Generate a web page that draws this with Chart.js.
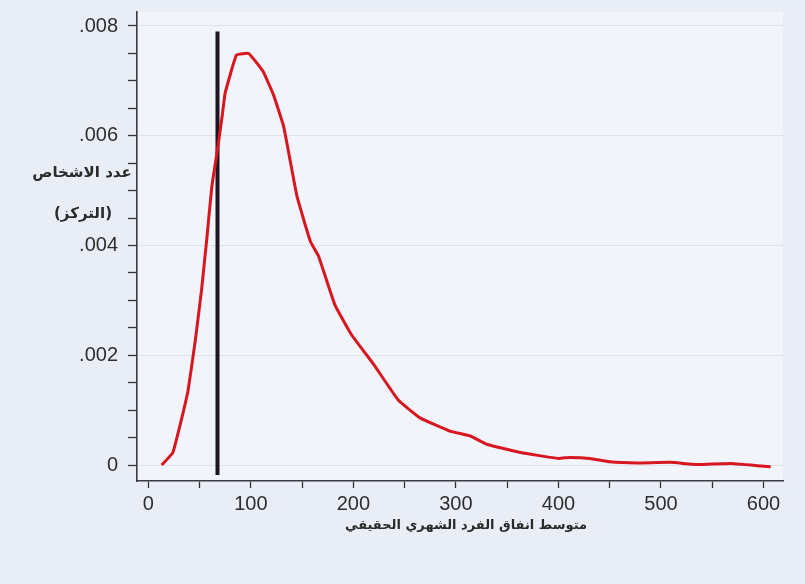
<!DOCTYPE html>
<html>
<head>
<meta charset="utf-8">
<script src="https://cdn.jsdelivr.net/npm/chart.js@4/dist/chart.umd.min.js"></script>
<style>
  html, body { margin: 0; padding: 0; background: #e9eef6; }
  #wrap { width: 805px; height: 584px; }
</style>
</head>
<body>
<div id="wrap"><canvas id="c" width="805" height="584"></canvas></div>
<script>
// ---- data ----
const spendingValues = [13, 24, 34, 39, 46, 52, 57, 62, 67, 72, 75, 86, 98, 112, 122, 132, 145, 158, 166, 182, 198, 220, 244, 265, 294, 314, 330, 363, 400, 411, 431, 450, 477, 509, 535, 568, 607];
const densityValues  = [0.0000, 0.00023, 0.00096, 0.00138, 0.00229, 0.0032, 0.00411, 0.00508, 0.00569, 0.00635, 0.00678, 0.00747, 0.0075, 0.00717, 0.00675, 0.00617, 0.0049, 0.00408, 0.00381, 0.00292, 0.00238, 0.00183, 0.00118, 0.00086, 0.00062, 0.00053, 0.00038, 0.00023, 0.00012, 0.00014, 0.00012, 0.00006, 0.00004, 0.00005, 0.00001, 0.00003, -0.00003];
const markerX = [67.5, 67.5];
const markerY = [-0.00018, 0.0079];

const xTickValues = [0, 50, 100, 150, 200, 250, 300, 350, 400, 450, 500, 550, 600];
const xMajorTicks = [0, 100, 200, 300, 400, 500, 600];
const xMajorLabels = ['0', '100', '200', '300', '400', '500', '600'];
const yTickValues = [0, 0.0005, 0.001, 0.0015, 0.002, 0.0025, 0.003, 0.0035, 0.004, 0.0045, 0.005, 0.0055, 0.006, 0.0065, 0.007, 0.0075, 0.008];
const yMajorTicks = [0, 0.002, 0.004, 0.006, 0.008];
const yMajorLabels = ['0', '.002', '.004', '.006', '.008'];

const xTitle = 'متوسط انفاق الفرد الشهري الحقيقي';
const yTitleLines = ['عدد الاشخاص', '(التركز)'];

// ---- helpers ----
function majorIndex(list, v) {
  for (let i = 0; i < list.length; i++) if (Math.abs(list[i] - v) < 1e-9) return i;
  return -1;
}

const curve = spendingValues.map((x, i) => ({ x: x, y: densityValues[i] }));
const marker = markerX.map((x, i) => ({ x: x, y: markerY[i] }));

const bgPlugin = {
  id: 'bg',
  beforeDraw(chart) {
    const ctx = chart.ctx, a = chart.chartArea;
    ctx.save();
    ctx.fillStyle = '#e9eef6';
    ctx.fillRect(0, 0, chart.width, chart.height);
    ctx.fillStyle = '#f1f4fa';
    ctx.fillRect(a.left, a.top, a.right - a.left, a.bottom - a.top);
    ctx.restore();
  }
};

const titlePlugin = {
  id: 'titles',
  afterDraw(chart) {
    const ctx = chart.ctx;
    ctx.save();
    ctx.fillStyle = '#2a2a2a';
    ctx.direction = 'rtl';
    ctx.textAlign = 'center';
    ctx.textBaseline = 'middle';
    ctx.font = 'bold 15px "DejaVu Sans"';
    ctx.fillText(yTitleLines[0], 82, 173);
    ctx.fillText(yTitleLines[1], 83, 214);
    ctx.font = 'bold 13px "DejaVu Sans"';
    ctx.fillText(xTitle, 466, 526);
    ctx.restore();
  }
};

new Chart(document.getElementById('c'), {
  type: 'line',
  data: {
    datasets: [
      {
        data: curve,
        borderColor: '#d7161f',
        borderWidth: 3,
        pointRadius: 0,
        tension: 0.1,
        fill: false
      },
      {
        data: marker,
        borderColor: '#1c1620',
        borderWidth: 4,
        pointRadius: 0,
        fill: false
      }
    ]
  },
  plugins: [bgPlugin, titlePlugin],
  options: {
    responsive: false,
    animation: false,
    layout: { padding: { left: 0, right: 22, top: 12, bottom: 0 } },
    plugins: { legend: { display: false }, tooltip: { enabled: false } },
    scales: {
      x: {
        type: 'linear',
        min: -11,
        max: 619,
        afterBuildTicks(scale) { scale.ticks = xTickValues.map(v => ({ value: v })); },
        afterFit(scale) { scale.height = 103; scale.paddingLeft = 0; scale.paddingRight = 0; },
        grid: { drawOnChartArea: false, tickLength: 7, tickColor: '#333', tickWidth: 1.3 },
        border: { display: true, color: '#3a3a44', width: 1.6 },
        ticks: {
          autoSkip: false,
          maxRotation: 0,
          padding: 4,
          color: '#2e2e2e',
          font: { family: '"Liberation Sans", Arial, sans-serif', size: 20 },
          callback(v) { const i = majorIndex(xMajorTicks, v); return i >= 0 ? xMajorLabels[i] : ''; }
        }
      },
      y: {
        type: 'linear',
        min: -0.00029,
        max: 0.008255,
        afterBuildTicks(scale) { scale.ticks = yTickValues.map(v => ({ value: v })); },
        afterFit(scale) { scale.width = 137; scale.paddingTop = 0; scale.paddingBottom = 0; },
        grid: {
          drawOnChartArea: true,
          tickLength: 9,
          tickWidth: 1.3,
          tickColor: '#333',
          color(ctx) {
            return (ctx.tick && majorIndex(yMajorTicks, ctx.tick.value) >= 0) ? 'rgba(214,220,233,0.75)' : 'rgba(0,0,0,0)';
          },
          lineWidth: 1
        },
        border: { display: true, color: '#3a3a44', width: 1.6 },
        ticks: {
          autoSkip: false,
          padding: 10,
          color: '#2e2e2e',
          font: { family: '"Liberation Sans", Arial, sans-serif', size: 20 },
          callback(v) { const i = majorIndex(yMajorTicks, v); return i >= 0 ? yMajorLabels[i] : ''; }
        }
      }
    }
  }
});
</script>
</body>
</html>
